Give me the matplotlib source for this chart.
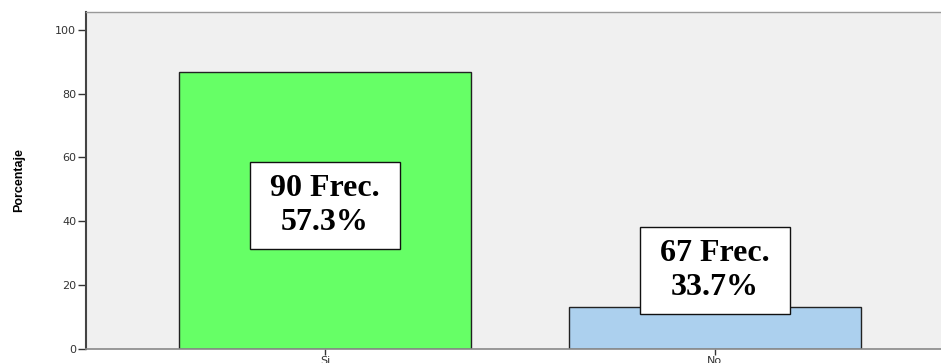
import matplotlib.pyplot as plt
from matplotlib.patches import Rectangle

categories = ["Si", "No"]
porcentaje = [86.7, 13.3]
frecuencia = [90, 67]
pct_labels = ["57.3%", "33.7%"]
yticks = [0, 20, 40, 60, 80, 100]

bar_colors = ["#66FF66", "#ACD0EE"]
# label box centres (y in data units) and size
box_y = [44.9, 24.6]
box_w, box_h = 0.386, 27.2

fig = plt.figure(figsize=(9.41, 3.63), dpi=100)
ax = fig.add_axes([0.0914, 0.0386, 0.9086, 0.928])
ax.set_facecolor("#F0F0F0")

x = list(range(len(categories)))
ax.bar(x, porcentaje, width=0.75, color=bar_colors, edgecolor="#222222",
       linewidth=1.0, zorder=2)

for xi, f, p, yb in zip(x, frecuencia, pct_labels, box_y):
    ax.add_patch(Rectangle((xi - box_w / 2, yb - box_h / 2), box_w, box_h,
                           facecolor="white", edgecolor="#111111",
                           linewidth=1.0, zorder=3))
    ax.text(xi, yb, f"{f} Frec.\n{p}", ha="center", va="center",
            fontsize=23, fontweight="bold", family="Liberation Serif",
            linespacing=1.22, zorder=4)

ax.set_xlim(-0.613, 1.58)
ax.set_ylim(0, 105.5)
ax.set_xticks(x)
ax.set_xticklabels(categories)
ax.set_yticks(yticks)

ax.tick_params(axis="y", length=6, width=1, color="#333333",
               labelsize=8, labelcolor="#333333", pad=1)
ax.tick_params(axis="x", length=4, width=1, color="#333333",
               labelsize=8, labelcolor="#333333", pad=1)

ax.set_ylabel("Porcentaje", fontsize=9, fontweight="bold",
              family=["Liberation Sans Narrow", "Liberation Sans"],
              labelpad=22)

ax.spines["left"].set_color("#444444")
ax.spines["left"].set_linewidth(1.5)
ax.spines["bottom"].set_color("#888888")
ax.spines["bottom"].set_linewidth(1.2)
ax.spines["top"].set_color("#999999")
ax.spines["top"].set_linewidth(1.0)
ax.spines["right"].set_visible(False)

fig.savefig("out.png", dpi=100)
